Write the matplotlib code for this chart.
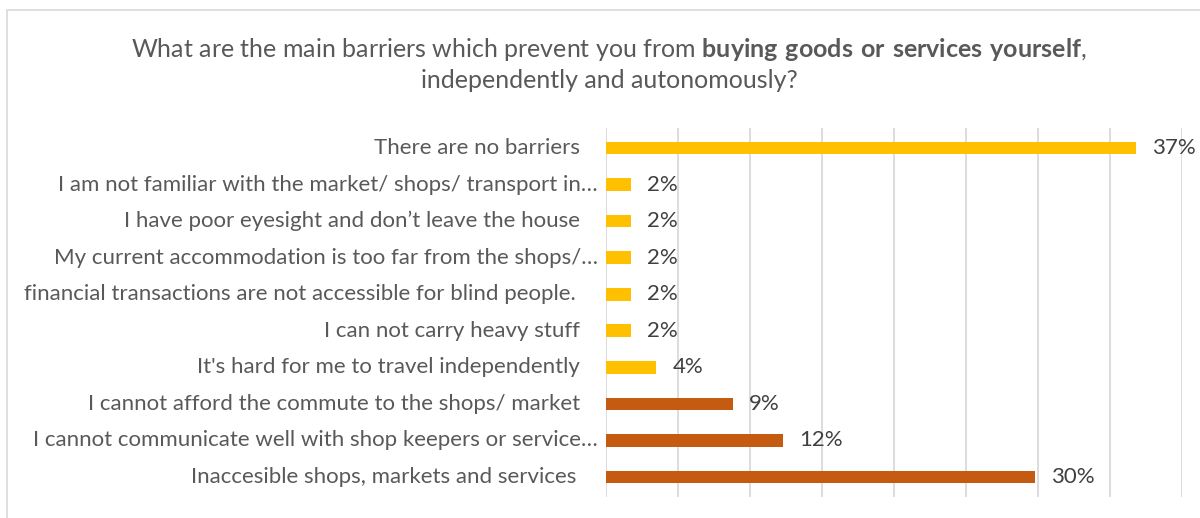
import matplotlib
matplotlib.use("Agg")
import matplotlib.pyplot as plt
from matplotlib.patches import Rectangle
from matplotlib import transforms

# chart data, top to bottom as shown
categories = [
    "There are no barriers",
    "I am not familiar with the market/ shops/ transport in…",
    "I have poor eyesight and don’t leave the house",
    "My current accommodation is too far from the shops/…",
    "financial transactions are not accessible for blind people. ",
    "I can not carry heavy stuff",
    "It's hard for me to travel independently",
    "I cannot afford the commute to the shops/ market",
    "I cannot communicate well with shop keepers or service…",
    "Inaccesible shops, markets and services ",
]
values = [36.8, 1.75, 1.75, 1.75, 1.75, 1.75, 3.5, 8.8, 12.3, 29.8]
groups = ["a", "a", "a", "a", "a", "a", "a", "b", "b", "b"]
colors = {"a": "#FFC000", "b": "#C55A11"}
xticks = [0, 5, 10, 15, 20, 25, 30, 35, 40]

plt.rcParams["font.family"] = ["Lato", "DejaVu Sans"]
plt.rcParams["mathtext.fontset"] = "custom"
plt.rcParams["mathtext.rm"] = "Lato"
plt.rcParams["mathtext.bf"] = "Lato:bold"

TXT = "#595959"
FS = 16

fig = plt.figure(figsize=(12, 5.18), dpi=100)
ax = fig.add_axes([0.505, 0.0405, 0.48, 0.7125])

ypos = list(range(len(categories)))
bars = ax.barh(ypos, values, height=0.345,
               color=[colors[g] for g in groups], zorder=3)
ax.set_ylim(len(categories) - 0.45, -0.55)
ax.set_xlim(0, 40)
ax.set_xticks(xticks)
ax.set_xticklabels([])
ax.set_yticks([])
ax.grid(axis="x", color="#D9D9D9", linewidth=1.3, zorder=0)
ax.tick_params(length=0)
for s in ax.spines.values():
    s.set_visible(False)

# category labels, right aligned left of the plot
for y, lab in zip(ypos, categories):
    pad = 8 if lab.endswith("…") else 26
    if lab.endswith(" "):
        pad += 4
    off = transforms.offset_copy(ax.get_yaxis_transform(), fig=fig,
                                 x=-pad * 72 / 100, units="points")
    ax.text(0, y, lab.strip(), transform=off, ha="right", va="center",
            fontsize=FS, color=TXT)

# data labels
for rect, v in zip(bars, values):
    ax.annotate(f"{v:.0f}%", (rect.get_width(), rect.get_y() + rect.get_height() / 2),
                xytext=(11.5, 0), textcoords="offset points", ha="left", va="center",
                fontsize=FS, color="#404040")

title = ("What are the main barriers which prevent you from "
         r"$\mathbf{buying\ goods\ or\ services\ yourself}$,"
         "\nindependently and autonomously?")
fig.text(609 / 1200, 1 - 64 / 518, title, ha="center", va="center",
         fontsize=18, color=TXT, linespacing=1.35)

# outer chart frame
fig.patches.append(Rectangle((7 / 1200, -0.1), 1.2, 1.1 - 10 / 518,
                             transform=fig.transFigure, fill=False,
                             edgecolor="#D9D9D9", linewidth=1.2))

fig.savefig("out.png", dpi=100)
